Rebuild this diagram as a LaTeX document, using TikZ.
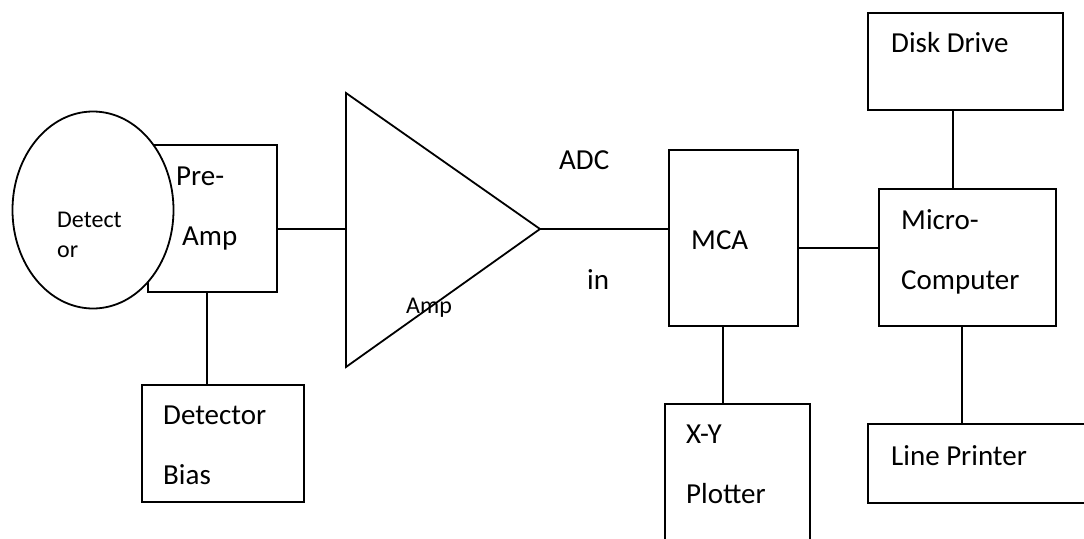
\documentclass[tikz,border=0pt]{standalone}
\usepackage{fontspec}
\setmainfont{Carlito}
\usetikzlibrary{positioning,calc,shapes.geometric}
\tikzset{
  box/.style={draw=black,line width=1.8pt,fill=white,inner sep=0pt},
  disc/.style={ellipse,draw=black,line width=1.8pt,fill=white,inner sep=0pt},
  wire/.style={draw=black,line width=1.8pt},
  lbl/.style={anchor=base west,inner sep=0pt,font=\fontsize{29}{35}\selectfont},
  smalllbl/.style={anchor=base west,inner sep=0pt,font=\fontsize{24}{29}\selectfont}}

\begin{document}
\begin{tikzpicture}[x=1pt,y=-1pt]
  \useasboundingbox (0,0) rectangle (1084,538);
  \clip (0,0) rectangle (1084,538);
  % detector and pre-amp
  \node[box,minimum width=129pt,minimum height=147pt] (pre) at (212.5,218.5) {};
  \node[disc,minimum width=161pt,minimum height=197pt] (det) at (93,210) {};
  \node[box,minimum width=162pt,minimum height=117pt] (bias) at (223,443.5) {};
  % amplifier
  \coordinate (amptop) at (346,93);
  \coordinate (ampbot) at (346,367);
  \coordinate (amptip) at (540,229);
  \coordinate (ampin) at (346,229);
  \draw[wire,line join=miter] (amptop) -- (amptip) -- (ampbot) -- cycle;
  % analyser and computer
  \node[box,minimum width=129pt,minimum height=176pt] (mca) at (733.5,238) {};
  \node[box,minimum width=145pt,minimum height=170pt] (xy) at (737.5,489) {};
  \node[box,minimum width=177pt,minimum height=137pt] (micro) at (967.5,257.5) {};
  \node[box,minimum width=195pt,minimum height=97pt] (disk) at (965.5,61.5) {};
  \node[box,minimum width=242pt,minimum height=79pt] (lp) at (989,463.5) {};
  % connections
  \draw[wire] (ampin -| pre.east) -- (ampin);
  \draw[wire] ([xshift=-5.5pt]pre.south) -- ([xshift=-5.5pt]pre.south |- bias.north);
  \draw[wire] (amptip) -- (amptip -| mca.west);
  \draw[wire] ([xshift=-10.5pt]mca.south) -- ([xshift=-10.5pt]mca.south |- xy.north);
  \draw[wire] ([yshift=-10pt]mca.east) -- ([yshift=-10pt]mca.east -| micro.west);
  \draw[wire] ([xshift=-12.5pt]disk.south) -- ([xshift=-12.5pt]disk.south |- micro.north);
  \draw[wire] ([xshift=-5.5pt]micro.south) -- ([xshift=-5.5pt]micro.south |- lp.north);
  % labels
  \node[smalllbl] (dett1) at (57,227) {Detect};
  \node[smalllbl] (dett2) at (57,257) {or};
  \node[lbl] (pret1) at (176,185) {Pre-};
  \node[lbl] (pret2) at (182,245) {Amp};
  \node[lbl] (biast1) at (163,424) {Detector};
  \node[lbl] (biast2) at (163,484) {Bias};
  \node[smalllbl] (ampt) at (406,313) {Amp};
  \node[lbl] (adct1) at (559,169) {ADC};
  \node[lbl] (adct2) at (587,289) {in};
  \node[lbl] (mcat) at (691,249) {MCA};
  \node[lbl] (xyt1) at (686,443) {X-Y};
  \node[lbl] (xyt2) at (686,503) {Plotter};
  \node[lbl] (microt1) at (901,229) {Micro-};
  \node[lbl] (microt2) at (901,289) {Computer};
  \node[lbl] (diskt) at (891,52) {Disk Drive};
  \node[lbl] (lpt) at (891,465) {Line Printer};
\end{tikzpicture}
\end{document}
